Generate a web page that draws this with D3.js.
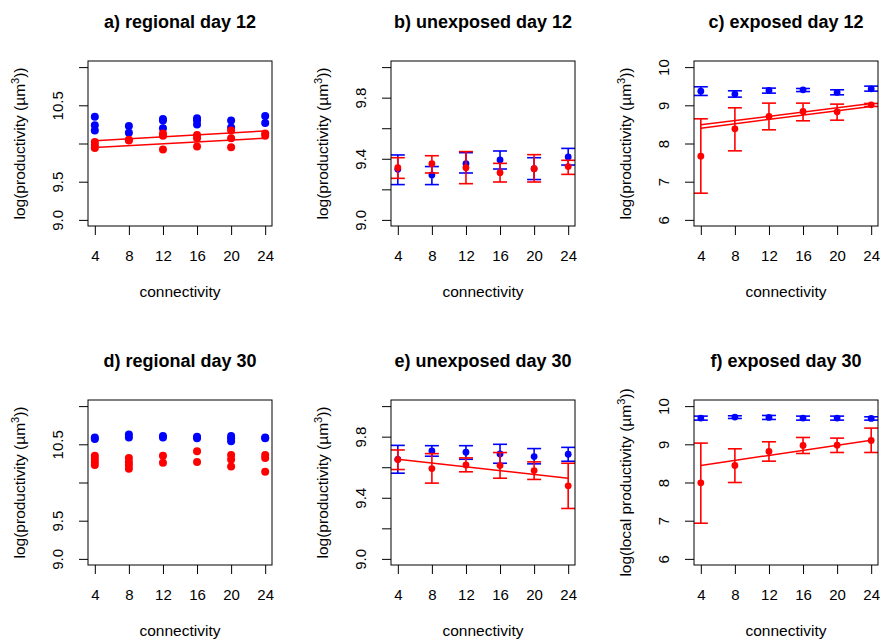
<!DOCTYPE html>
<html><head><meta charset="utf-8">
<script src="https://cdn.jsdelivr.net/npm/d3@7"></script>
<style>body{margin:0;background:#fff}svg{display:block}text{font-family:"Liberation Sans",Arial,Helvetica,sans-serif;fill:#000}</style>
</head><body>
<script>
const connectivity = [4, 8, 12, 16, 20, 24];
const xTicks = [4, 8, 12, 16, 20, 24];
const titles = ["a) regional day 12","b) unexposed day 12","c) exposed day 12","d) regional day 30","e) unexposed day 30","f) exposed day 30"];
const yLabels = ["log(productivity (µm","log(productivity (µm","log(productivity (µm","log(productivity (µm","log(productivity (µm","log(local productivity (µm"];

const yTicksRegional = [9, 9.5, 10, 10.5, 11];
const yTickLabelsRegional = ["9.0", "9.5", "", "10.5", ""];
const yTicksUnexp = [9, 9.2, 9.4, 9.6, 9.8, 10];
const yTickLabelsUnexp = ["9.0", "", "9.4", "", "9.8", ""];
const yTicksExp = [6, 7, 8, 9, 10];
const yTickLabelsExp = ["6", "7", "8", "9", "10"];

// a) regional day 12 — replicate values per connectivity
const aBlue = [[10.35,10.24,10.17],[10.23,10.14],[10.32,10.30,10.20],[10.33,10.30,10.25],[10.30,10.21],[10.36,10.27]];
const aRed = [[10.02,9.98,9.94],[10.05,10.04],[10.13,10.10,9.92],[10.11,10.07,9.96],[10.17,10.07,9.95],[10.13,10.10]];
const aFitUpper = [10.035, 10.165];
const aFitLower = [9.948, 10.07];

// d) regional day 30
const dBlue = [[10.59,10.57],[10.63,10.59],[10.61,10.59],[10.60,10.58],[10.61,10.58,10.54],[10.59,10.58]];
const dRed = [[10.35,10.31,10.27,10.23],[10.32,10.27,10.23,10.18],[10.35,10.26],[10.41,10.27],[10.36,10.30,10.21],[10.36,10.32,10.14]];

// b) unexposed day 12 — mean, upper, lower
const bBlueMean = [9.331,9.294,9.368,9.392,9.335,9.412];
const bBlueHi = [9.425,9.349,9.440,9.451,9.407,9.468];
const bBlueLo = [9.231,9.231,9.307,9.333,9.264,9.359];
const bRedMean = [9.342,9.368,9.342,9.309,9.335,9.349];
const bRedHi = [9.407,9.420,9.447,9.370,9.427,9.390];
const bRedLo = [9.272,9.307,9.237,9.248,9.248,9.298];

// c) exposed day 12
const cBlueMean = [9.371,9.293,9.389,9.406,9.336,9.432];
const cBlueHi = [9.485,9.380,9.450,9.440,9.406,9.502];
const cBlueLo = [9.258,9.214,9.319,9.360,9.275,9.371];
const cRedMean = [7.668,8.384,8.707,8.838,8.830,9.013];
const cRedHi = [8.646,8.934,9.057,9.057,9.031,9.048];
const cRedLo = [6.699,7.808,8.358,8.594,8.611,8.970];
const cFitUpper = [8.489, 9.048];
const cFitLower = [8.402, 8.969];

// e) unexposed day 30
const eBlueMean = [9.652,9.707,9.698,9.687,9.670,9.685];
const eBlueHi = [9.743,9.741,9.741,9.750,9.722,9.730];
const eBlueLo = [9.561,9.672,9.652,9.626,9.622,9.639];
const eRedMean = [9.650,9.591,9.615,9.611,9.578,9.478];
const eRedHi = [9.713,9.689,9.661,9.696,9.635,9.626];
const eRedLo = [9.585,9.496,9.570,9.528,9.520,9.330];
const eFit = [9.652, 9.528];

// f) exposed day 30
const fBlueMean = [9.686,9.712,9.703,9.686,9.686,9.677];
const fBlueHi = [9.738,9.747,9.755,9.738,9.738,9.720];
const fBlueLo = [9.633,9.677,9.651,9.633,9.633,9.633];
const fRedMean = [7.991,8.445,8.812,8.969,8.978,9.100];
const fRedHi = [9.031,8.882,9.066,9.179,9.162,9.424];
const fRedLo = [6.934,8.000,8.559,8.760,8.786,8.786];
const fFit = [8.445, 9.109];

const fitX = [4, 24];
const BLUE = "#0000FF", RED = "#FF0000";

const W = 880, H = 639;
const colX = [88, 391, 694];
const rowY = [61, 400];
const bw = 184, bh = 165;
const FONT = '"Liberation Sans",Arial,sans-serif';

const svg = d3.select("body").append("svg").attr("width", W).attr("height", H);

function pad(lo, hi){ const d = (hi - lo) * 0.04; return [lo - d, hi + d]; }

const panels = [
  {type:"pts", ylim:[9,11], ticks:yTicksRegional, labs:yTickLabelsRegional, blue:aBlue, red:aRed, fits:[aFitUpper, aFitLower], r:4},
  {type:"err", ylim:[9,10], ticks:yTicksUnexp, labs:yTickLabelsUnexp, bm:bBlueMean, bh:bBlueHi, bl:bBlueLo, rm:bRedMean, rh:bRedHi, rl:bRedLo, fits:[]},
  {type:"err", ylim:[6,10], ticks:yTicksExp, labs:yTickLabelsExp, bm:cBlueMean, bh:cBlueHi, bl:cBlueLo, rm:cRedMean, rh:cRedHi, rl:cRedLo, fits:[cFitUpper, cFitLower]},
  {type:"pts", ylim:[9,11], ticks:yTicksRegional, labs:yTickLabelsRegional, blue:dBlue, red:dRed, fits:[], r:4},
  {type:"err", ylim:[9,10], ticks:yTicksUnexp, labs:yTickLabelsUnexp, bm:eBlueMean, bh:eBlueHi, bl:eBlueLo, rm:eRedMean, rh:eRedHi, rl:eRedLo, fits:[eFit]},
  {type:"err", ylim:[6,10], ticks:yTicksExp, labs:yTickLabelsExp, bm:fBlueMean, bh:fBlueHi, bl:fBlueLo, rm:fRedMean, rh:fRedHi, rl:fRedLo, fits:[fFit]}
];

panels.forEach((p, i) => {
  const x0 = colX[i % 3], y0 = rowY[Math.floor(i / 3)];
  const g = svg.append("g").attr("transform", `translate(${x0},${y0})`);
  const x = d3.scaleLinear().domain(pad(4, 24)).range([0, bw]);
  const y = d3.scaleLinear().domain(pad(p.ylim[0], p.ylim[1])).range([bh, 0]);

  // axes
  const xa = g.append("g").attr("transform", `translate(0,${bh})`)
    .call(d3.axisBottom(x).tickValues(xTicks).tickSize(9).tickFormat(d3.format("d")));
  xa.select(".domain").remove();
  xa.selectAll("text").attr("dy", null).attr("y", 34.5).style("font-size", "15px").style("font-family", FONT).attr("fill", "#000");
  xa.selectAll("line").attr("stroke", "#000");

  const ya = g.append("g").call(d3.axisLeft(y).tickValues(p.ticks).tickSize(9).tickFormat((d, k) => p.labs[k]));
  ya.select(".domain").remove();
  ya.selectAll("line").attr("stroke", "#000");
  ya.selectAll("text").attr("x", null).attr("dy", null)
    .attr("transform", "translate(-25,0) rotate(-90)").attr("text-anchor", "middle")
    .style("font-size", "15px").style("font-family", FONT).attr("fill", "#000");

  const clip = "clip" + i;
  g.append("clipPath").attr("id", clip).append("rect").attr("width", bw).attr("height", bh);
  const plot = g.append("g").attr("clip-path", `url(#${clip})`);

  if (p.type === "pts") {
    const flat = (arr, col) => arr.flatMap((vals, k) => vals.map(v => ({x: connectivity[k], v, col})));
    plot.selectAll(".b").data(flat(p.blue, BLUE)).join("circle")
      .attr("cx", d => x(d.x)).attr("cy", d => y(d.v)).attr("r", p.r).attr("fill", BLUE);
    plot.selectAll(".r").data(flat(p.red, RED)).join("circle")
      .attr("cx", d => x(d.x)).attr("cy", d => y(d.v)).attr("r", p.r).attr("fill", RED);
  } else {
    const drawErr = (m, hi, lo, col) => {
      const d = connectivity.map((c, k) => ({x: c, m: m[k], hi: hi[k], lo: lo[k]}));
      const eg = plot.append("g").attr("stroke", col).attr("stroke-width", 1.6);
      eg.selectAll(".v").data(d).join("line").attr("x1", e => x(e.x)).attr("x2", e => x(e.x)).attr("y1", e => y(e.hi)).attr("y2", e => y(e.lo));
      eg.selectAll(".h").data(d).join("line").attr("x1", e => x(e.x) - 7).attr("x2", e => x(e.x) + 7).attr("y1", e => y(e.hi)).attr("y2", e => y(e.hi));
      eg.selectAll(".l").data(d).join("line").attr("x1", e => x(e.x) - 7).attr("x2", e => x(e.x) + 7).attr("y1", e => y(e.lo)).attr("y2", e => y(e.lo));
      plot.append("g").selectAll("circle").data(d).join("circle")
        .attr("cx", e => x(e.x)).attr("cy", e => y(e.m)).attr("r", 3.4).attr("fill", col);
    };
    drawErr(p.bm, p.bh, p.bl, BLUE);
    drawErr(p.rm, p.rh, p.rl, RED);
  }
  const line = d3.line().x((d, k) => x(fitX[k])).y(d => y(d));
  p.fits.forEach(f => plot.append("path").datum(f).attr("d", line).attr("fill", "none").attr("stroke", RED).attr("stroke-width", 1.5));

  g.append("rect").attr("width", bw).attr("height", bh).attr("fill", "none").attr("stroke", "#000").attr("stroke-width", 1);

  g.append("text").attr("x", bw / 2).attr("y", -33.5).attr("text-anchor", "middle")
    .style("font-size", "18px").style("font-weight", "bold").text(titles[i]);
  g.append("text").attr("x", bw / 2).attr("y", bh + 71).attr("text-anchor", "middle")
    .style("font-size", "15.5px").text("connectivity");
  const yl = g.append("text").attr("transform", `translate(-63,${bh / 2}) rotate(-90)`).attr("text-anchor", "middle").style("font-size", "15.5px");
  yl.append("tspan").text(yLabels[i]);
  yl.append("tspan").attr("dy", -6).style("font-size", "11px").text("3");
  yl.append("tspan").attr("dy", 6).text("))");
});
</script>
</body></html>
